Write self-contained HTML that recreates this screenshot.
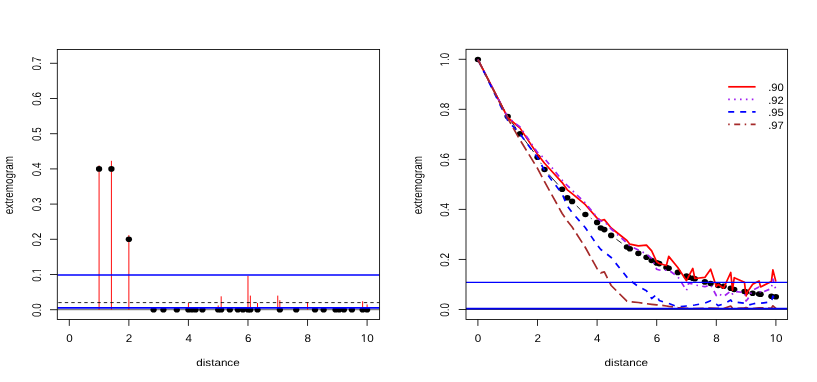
<!DOCTYPE html>
<html><head><meta charset="utf-8"><title>extremogram</title>
<style>html,body{margin:0;padding:0;background:#fff;}body{width:817px;height:382px;overflow:hidden;font-family:"Liberation Sans",sans-serif;}svg{display:block}</style>
</head><body>
<svg width="817" height="382" viewBox="0 0 817 382" font-family="Liberation Sans, sans-serif" fill="#000" text-rendering="geometricPrecision">
<rect width="817" height="382" fill="#fff"/>
<defs><filter id="tb" filterUnits="userSpaceOnUse" x="0" y="0" width="817" height="382"><feGaussianBlur stdDeviation="0.3"/></filter></defs>
<clipPath id="c1"><rect x="57.3" y="49.5" width="322.30" height="270.00"/></clipPath>
<g clip-path="url(#c1)">
<line x1="57.3" y1="309.70" x2="379.6" y2="309.70" stroke="#666" stroke-width="1"/>
<line x1="99.08" y1="309.70" x2="99.08" y2="165.38" stroke="#ff0000" stroke-width="0.95"/>
<line x1="111.41" y1="309.70" x2="111.41" y2="160.80" stroke="#ff0000" stroke-width="0.95"/>
<line x1="128.86" y1="309.70" x2="128.86" y2="235.08" stroke="#ff0000" stroke-width="0.95"/>
<line x1="188.42" y1="309.70" x2="188.42" y2="303.01" stroke="#ff0000" stroke-width="0.95"/>
<line x1="218.20" y1="309.70" x2="218.20" y2="305.48" stroke="#ff0000" stroke-width="0.95"/>
<line x1="221.18" y1="309.70" x2="221.18" y2="296.32" stroke="#ff0000" stroke-width="0.95"/>
<line x1="247.98" y1="309.70" x2="247.98" y2="275.91" stroke="#ff0000" stroke-width="0.95"/>
<line x1="250.36" y1="309.70" x2="250.36" y2="295.62" stroke="#ff0000" stroke-width="0.95"/>
<line x1="257.51" y1="309.70" x2="257.51" y2="303.01" stroke="#ff0000" stroke-width="0.95"/>
<line x1="277.76" y1="309.70" x2="277.76" y2="295.62" stroke="#ff0000" stroke-width="0.95"/>
<line x1="279.84" y1="309.70" x2="279.84" y2="300.20" stroke="#ff0000" stroke-width="0.95"/>
<line x1="307.54" y1="309.70" x2="307.54" y2="302.31" stroke="#ff0000" stroke-width="0.95"/>
<line x1="362.63" y1="309.70" x2="362.63" y2="301.25" stroke="#ff0000" stroke-width="0.95"/>
<line x1="367.10" y1="309.70" x2="367.10" y2="304.42" stroke="#ff0000" stroke-width="0.95"/>
<ellipse cx="99.08" cy="168.90" rx="3.15" ry="2.8" fill="#000"/>
<ellipse cx="111.41" cy="168.90" rx="3.15" ry="2.8" fill="#000"/>
<ellipse cx="128.86" cy="239.30" rx="3.15" ry="2.8" fill="#000"/>
<ellipse cx="153.58" cy="309.70" rx="3.15" ry="2.8" fill="#000"/>
<ellipse cx="163.40" cy="309.70" rx="3.15" ry="2.8" fill="#000"/>
<ellipse cx="176.81" cy="309.70" rx="3.15" ry="2.8" fill="#000"/>
<ellipse cx="188.42" cy="309.70" rx="3.15" ry="2.8" fill="#000"/>
<ellipse cx="191.99" cy="309.70" rx="3.15" ry="2.8" fill="#000"/>
<ellipse cx="195.57" cy="309.70" rx="3.15" ry="2.8" fill="#000"/>
<ellipse cx="202.42" cy="309.70" rx="3.15" ry="2.8" fill="#000"/>
<ellipse cx="218.20" cy="309.70" rx="3.15" ry="2.8" fill="#000"/>
<ellipse cx="221.18" cy="309.70" rx="3.15" ry="2.8" fill="#000"/>
<ellipse cx="229.81" cy="309.70" rx="3.15" ry="2.8" fill="#000"/>
<ellipse cx="237.85" cy="309.70" rx="3.15" ry="2.8" fill="#000"/>
<ellipse cx="242.92" cy="309.70" rx="3.15" ry="2.8" fill="#000"/>
<ellipse cx="247.98" cy="309.70" rx="3.15" ry="2.8" fill="#000"/>
<ellipse cx="250.36" cy="309.70" rx="3.15" ry="2.8" fill="#000"/>
<ellipse cx="257.51" cy="309.70" rx="3.15" ry="2.8" fill="#000"/>
<ellipse cx="279.84" cy="309.70" rx="3.15" ry="2.8" fill="#000"/>
<ellipse cx="296.22" cy="309.70" rx="3.15" ry="2.8" fill="#000"/>
<ellipse cx="314.99" cy="309.70" rx="3.15" ry="2.8" fill="#000"/>
<ellipse cx="323.62" cy="309.70" rx="3.15" ry="2.8" fill="#000"/>
<ellipse cx="335.53" cy="309.70" rx="3.15" ry="2.8" fill="#000"/>
<ellipse cx="339.11" cy="309.70" rx="3.15" ry="2.8" fill="#000"/>
<ellipse cx="343.87" cy="309.70" rx="3.15" ry="2.8" fill="#000"/>
<ellipse cx="351.91" cy="309.70" rx="3.15" ry="2.8" fill="#000"/>
<ellipse cx="362.63" cy="309.70" rx="3.15" ry="2.8" fill="#000"/>
<ellipse cx="367.10" cy="309.70" rx="3.15" ry="2.8" fill="#000"/>
<line x1="57.3" y1="302.6" x2="379.6" y2="302.6" stroke="#000" stroke-width="0.85" stroke-dasharray="3.4 3.1" stroke-dashoffset="-1"/>
<line x1="57.3" y1="275.0" x2="379.6" y2="275.0" stroke="#0000ff" stroke-width="1.7"/>
<line x1="57.3" y1="307.95" x2="379.6" y2="307.95" stroke="#0000ff" stroke-width="1.75"/>
</g>
<rect x="57.3" y="49.5" width="322.30" height="270.00" fill="none" stroke="#000" stroke-width="0.85"/>
<line x1="69.30" y1="319.5" x2="69.30" y2="325.9" stroke="#000" stroke-width="0.85"/>
<line x1="128.86" y1="319.5" x2="128.86" y2="325.9" stroke="#000" stroke-width="0.85"/>
<line x1="188.42" y1="319.5" x2="188.42" y2="325.9" stroke="#000" stroke-width="0.85"/>
<line x1="247.98" y1="319.5" x2="247.98" y2="325.9" stroke="#000" stroke-width="0.85"/>
<line x1="307.54" y1="319.5" x2="307.54" y2="325.9" stroke="#000" stroke-width="0.85"/>
<line x1="367.10" y1="319.5" x2="367.10" y2="325.9" stroke="#000" stroke-width="0.85"/>
<line x1="50.00" y1="309.70" x2="57.3" y2="309.70" stroke="#000" stroke-width="0.85"/>
<line x1="50.00" y1="274.50" x2="57.3" y2="274.50" stroke="#000" stroke-width="0.85"/>
<line x1="50.00" y1="239.30" x2="57.3" y2="239.30" stroke="#000" stroke-width="0.85"/>
<line x1="50.00" y1="204.10" x2="57.3" y2="204.10" stroke="#000" stroke-width="0.85"/>
<line x1="50.00" y1="168.90" x2="57.3" y2="168.90" stroke="#000" stroke-width="0.85"/>
<line x1="50.00" y1="133.70" x2="57.3" y2="133.70" stroke="#000" stroke-width="0.85"/>
<line x1="50.00" y1="98.50" x2="57.3" y2="98.50" stroke="#000" stroke-width="0.85"/>
<line x1="50.00" y1="63.30" x2="57.3" y2="63.30" stroke="#000" stroke-width="0.85"/>
<clipPath id="c2"><rect x="466.0" y="49.3" width="321.60" height="270.20"/></clipPath>
<g clip-path="url(#c2)" fill="none" stroke-linejoin="round">
<ellipse cx="477.90" cy="59.50" rx="3.15" ry="2.8" fill="#000"/>
<ellipse cx="507.70" cy="116.50" rx="3.15" ry="2.8" fill="#000"/>
<ellipse cx="520.04" cy="133.80" rx="3.15" ry="2.8" fill="#000"/>
<ellipse cx="537.50" cy="157.20" rx="3.15" ry="2.8" fill="#000"/>
<ellipse cx="544.53" cy="169.50" rx="3.15" ry="2.8" fill="#000"/>
<ellipse cx="562.17" cy="189.30" rx="3.15" ry="2.8" fill="#000"/>
<ellipse cx="567.30" cy="197.70" rx="3.15" ry="2.8" fill="#000"/>
<ellipse cx="572.13" cy="201.40" rx="3.15" ry="2.8" fill="#000"/>
<ellipse cx="585.36" cy="214.50" rx="3.15" ry="2.8" fill="#000"/>
<ellipse cx="597.10" cy="222.40" rx="3.15" ry="2.8" fill="#000"/>
<ellipse cx="600.77" cy="228.00" rx="3.15" ry="2.8" fill="#000"/>
<ellipse cx="604.34" cy="229.60" rx="3.15" ry="2.8" fill="#000"/>
<ellipse cx="611.17" cy="235.40" rx="3.15" ry="2.8" fill="#000"/>
<ellipse cx="626.90" cy="247.00" rx="3.15" ry="2.8" fill="#000"/>
<ellipse cx="629.85" cy="248.80" rx="3.15" ry="2.8" fill="#000"/>
<ellipse cx="638.37" cy="253.40" rx="3.15" ry="2.8" fill="#000"/>
<ellipse cx="646.48" cy="257.20" rx="3.15" ry="2.8" fill="#000"/>
<ellipse cx="651.66" cy="260.50" rx="3.15" ry="2.8" fill="#000"/>
<ellipse cx="656.70" cy="262.90" rx="3.15" ry="2.8" fill="#000"/>
<ellipse cx="659.17" cy="263.60" rx="3.15" ry="2.8" fill="#000"/>
<ellipse cx="666.38" cy="267.50" rx="3.15" ry="2.8" fill="#000"/>
<ellipse cx="668.71" cy="268.20" rx="3.15" ry="2.8" fill="#000"/>
<ellipse cx="677.80" cy="272.40" rx="3.15" ry="2.8" fill="#000"/>
<ellipse cx="686.50" cy="276.10" rx="3.15" ry="2.8" fill="#000"/>
<ellipse cx="688.62" cy="277.20" rx="3.15" ry="2.8" fill="#000"/>
<ellipse cx="692.79" cy="278.30" rx="3.15" ry="2.8" fill="#000"/>
<ellipse cx="694.84" cy="278.80" rx="3.15" ry="2.8" fill="#000"/>
<ellipse cx="704.86" cy="281.90" rx="3.15" ry="2.8" fill="#000"/>
<ellipse cx="710.64" cy="283.50" rx="3.15" ry="2.8" fill="#000"/>
<ellipse cx="718.15" cy="285.50" rx="3.15" ry="2.8" fill="#000"/>
<ellipse cx="723.63" cy="286.30" rx="3.15" ry="2.8" fill="#000"/>
<ellipse cx="730.75" cy="288.20" rx="3.15" ry="2.8" fill="#000"/>
<ellipse cx="734.24" cy="289.50" rx="3.15" ry="2.8" fill="#000"/>
<ellipse cx="744.43" cy="291.50" rx="3.15" ry="2.8" fill="#000"/>
<ellipse cx="746.10" cy="292.10" rx="3.15" ry="2.8" fill="#000"/>
<ellipse cx="752.66" cy="293.20" rx="3.15" ry="2.8" fill="#000"/>
<ellipse cx="759.03" cy="294.00" rx="3.15" ry="2.8" fill="#000"/>
<ellipse cx="760.61" cy="294.20" rx="3.15" ry="2.8" fill="#000"/>
<ellipse cx="771.40" cy="296.30" rx="3.15" ry="2.8" fill="#000"/>
<ellipse cx="775.90" cy="296.70" rx="3.15" ry="2.8" fill="#000"/>
<line x1="480.91" y1="65.26" x2="504.69" y2="110.74" stroke="#000" stroke-width="0.85"/>
<line x1="511.47" y1="121.79" x2="516.26" y2="128.51" stroke="#000" stroke-width="0.85"/>
<line x1="523.92" y1="139.01" x2="533.61" y2="151.99" stroke="#000" stroke-width="0.85"/>
<line x1="540.73" y1="162.84" x2="541.31" y2="163.86" stroke="#000" stroke-width="0.85"/>
<line x1="548.86" y1="174.35" x2="557.85" y2="184.45" stroke="#000" stroke-width="0.85"/>
<line x1="576.75" y1="205.97" x2="580.74" y2="209.93" stroke="#000" stroke-width="0.85"/>
<line x1="590.75" y1="218.13" x2="591.71" y2="218.77" stroke="#000" stroke-width="0.85"/>
<line x1="616.40" y1="239.26" x2="621.67" y2="243.14" stroke="#000" stroke-width="0.85"/>
<line x1="466.0" y1="309.5" x2="787.6" y2="309.5" stroke="#444" stroke-width="1"/>
<polyline points="477.90,59.50 507.70,117.50 520.04,128.10 537.50,154.30 544.53,163.30 562.17,182.60 567.30,189.80 572.13,193.70 585.36,204.70 597.10,218.10 600.77,220.50 604.34,219.60 611.17,228.00 626.90,240.50 629.85,244.20 638.37,245.80 646.48,245.10 651.66,250.90 656.70,261.80 659.17,263.50 666.38,265.50 668.71,256.40 677.80,267.50 686.50,280.70 688.62,276.50 692.79,268.40 694.84,278.50 704.86,277.40 710.64,269.20 716.30,286.40 718.15,284.30 723.63,288.20 730.75,272.50 732.51,290.10 734.24,277.70 744.43,282.20 746.10,296.00 747.74,291.50 752.66,284.30 759.03,281.00 760.61,286.90 771.40,281.60 772.89,269.90 775.90,281.60" stroke="#ff0000" stroke-width="1.7"/>
<polyline points="477.90,59.50 507.70,117.30 520.04,127.00 537.50,152.50 544.53,158.50 562.17,180.20 567.30,185.50 572.13,190.30 585.36,203.00 597.10,217.50 600.77,221.00 604.34,221.50 611.17,229.00 626.90,243.00 629.85,246.00 638.37,250.00 646.48,254.00 651.66,258.30 656.70,269.30 659.17,270.00 666.38,270.20 668.71,270.20 677.80,276.70 686.50,290.40 688.62,283.10 692.79,284.00 694.84,285.00 704.86,286.70 710.64,284.90 716.30,295.50 718.15,293.50 723.63,296.50 730.75,291.00 732.51,294.00 734.24,291.50 744.43,292.50 746.10,301.00 747.74,299.00 752.66,290.10 759.03,286.90 760.61,293.00 771.40,288.50 772.89,279.00 775.90,290.10" stroke="#a020f0" stroke-width="1.7" stroke-dasharray="1.5 4.3 5.6 4.3" stroke-dashoffset="8.7"/>
<polyline points="477.90,59.50 507.70,120.50 520.04,134.00 537.50,157.50 544.53,170.50 562.17,194.00 567.30,206.00 572.13,212.50 585.36,227.70 597.10,245.00 600.77,249.50 604.34,252.00 611.17,257.50 626.90,277.10 629.85,280.30 638.37,286.50 646.48,290.70 651.66,298.50 656.70,294.50 659.17,300.50 666.38,303.00 668.71,303.40 677.80,306.90 686.50,306.00 688.62,305.80 692.79,305.30 694.84,305.00 704.86,303.20 710.64,300.80 716.30,304.10 718.15,305.60 723.63,304.00 730.75,300.00 732.51,302.60 734.24,301.90 744.43,303.30 746.10,305.00 747.74,305.20 752.66,304.00 759.03,302.30 760.61,303.20 771.40,302.00 772.89,296.00 775.90,301.00" stroke="#0000ff" stroke-width="1.7" stroke-dasharray="6.2 6.2"/>
<polyline points="477.90,59.50 507.70,118.30 520.04,140.00 537.50,168.40 544.53,181.60 562.17,213.50 567.30,221.00 572.13,227.00 585.36,247.50 597.10,268.70 600.77,272.90 604.34,271.90 611.17,285.50 626.90,301.20 629.85,301.60 638.37,302.50 646.48,303.70 651.66,304.30 656.70,304.80 659.17,305.00 666.38,306.00 668.71,306.40 677.80,307.50 686.50,308.30 688.62,308.40 692.79,308.50 694.84,308.50 704.86,308.30 710.64,308.00 716.30,308.30 718.15,308.30 723.63,308.50 730.75,306.00 732.51,308.30 734.24,308.50 744.43,307.80 746.10,307.60 747.74,308.00 752.66,308.50 759.03,307.80 760.61,307.80 771.40,308.30 772.89,305.80 775.90,308.50" stroke="#a52a2a" stroke-width="1.7" stroke-dasharray="10.8 4.6"/>
<line x1="466.0" y1="282.35" x2="787.6" y2="282.35" stroke="#0000ff" stroke-width="1.25"/>
<line x1="466.0" y1="308.65" x2="787.6" y2="308.65" stroke="#0000ee" stroke-width="1.6"/>
</g>
<rect x="466.0" y="49.3" width="321.60" height="270.20" fill="none" stroke="#000" stroke-width="0.85"/>
<line x1="477.90" y1="319.5" x2="477.90" y2="325.9" stroke="#000" stroke-width="0.85"/>
<line x1="537.50" y1="319.5" x2="537.50" y2="325.9" stroke="#000" stroke-width="0.85"/>
<line x1="597.10" y1="319.5" x2="597.10" y2="325.9" stroke="#000" stroke-width="0.85"/>
<line x1="656.70" y1="319.5" x2="656.70" y2="325.9" stroke="#000" stroke-width="0.85"/>
<line x1="716.30" y1="319.5" x2="716.30" y2="325.9" stroke="#000" stroke-width="0.85"/>
<line x1="775.90" y1="319.5" x2="775.90" y2="325.9" stroke="#000" stroke-width="0.85"/>
<line x1="458.70" y1="309.50" x2="466.0" y2="309.50" stroke="#000" stroke-width="0.85"/>
<line x1="458.70" y1="259.46" x2="466.0" y2="259.46" stroke="#000" stroke-width="0.85"/>
<line x1="458.70" y1="209.42" x2="466.0" y2="209.42" stroke="#000" stroke-width="0.85"/>
<line x1="458.70" y1="159.38" x2="466.0" y2="159.38" stroke="#000" stroke-width="0.85"/>
<line x1="458.70" y1="109.34" x2="466.0" y2="109.34" stroke="#000" stroke-width="0.85"/>
<line x1="458.70" y1="59.30" x2="466.0" y2="59.30" stroke="#000" stroke-width="0.85"/>
<line x1="728.2" y1="86.8" x2="755.6" y2="86.8" stroke="#ff0000" stroke-width="1.7"/>
<line x1="728.2" y1="99.4" x2="755.6" y2="99.4" stroke="#a020f0" stroke-width="1.7" stroke-dasharray="1.6 4.3"/>
<line x1="728.2" y1="111.9" x2="755.6" y2="111.9" stroke="#0000ff" stroke-width="1.9" stroke-dasharray="6 6"/>
<line x1="728.2" y1="124.4" x2="755.6" y2="124.4" stroke="#a52a2a" stroke-width="1.7" stroke-dasharray="1.5 4.5 6 4.5"/>
<g filter="url(#tb)">
<text transform="translate(69.50,342.40) scale(1.04,1)" font-size="11.2" text-anchor="middle" text-rendering="geometricPrecision">0</text>
<text transform="translate(129.06,342.40) scale(1.04,1)" font-size="11.2" text-anchor="middle" text-rendering="geometricPrecision">2</text>
<text transform="translate(188.62,342.40) scale(1.04,1)" font-size="11.2" text-anchor="middle" text-rendering="geometricPrecision">4</text>
<text transform="translate(248.18,342.40) scale(1.04,1)" font-size="11.2" text-anchor="middle" text-rendering="geometricPrecision">6</text>
<text transform="translate(307.74,342.40) scale(1.04,1)" font-size="11.2" text-anchor="middle" text-rendering="geometricPrecision">8</text>
<text transform="translate(367.30,342.40) scale(1.04,1)" font-size="11.2" text-anchor="middle" text-rendering="geometricPrecision">10</text>
<text transform="translate(40.70,310.10) scale(1.28,1) rotate(-90)" font-size="9.9" text-anchor="middle" text-rendering="geometricPrecision">0.0</text>
<text transform="translate(40.70,274.90) scale(1.28,1) rotate(-90)" font-size="9.9" text-anchor="middle" text-rendering="geometricPrecision">0.1</text>
<text transform="translate(40.70,239.70) scale(1.28,1) rotate(-90)" font-size="9.9" text-anchor="middle" text-rendering="geometricPrecision">0.2</text>
<text transform="translate(40.70,204.50) scale(1.28,1) rotate(-90)" font-size="9.9" text-anchor="middle" text-rendering="geometricPrecision">0.3</text>
<text transform="translate(40.70,169.30) scale(1.28,1) rotate(-90)" font-size="9.9" text-anchor="middle" text-rendering="geometricPrecision">0.4</text>
<text transform="translate(40.70,134.10) scale(1.28,1) rotate(-90)" font-size="9.9" text-anchor="middle" text-rendering="geometricPrecision">0.5</text>
<text transform="translate(40.70,98.90) scale(1.28,1) rotate(-90)" font-size="9.9" text-anchor="middle" text-rendering="geometricPrecision">0.6</text>
<text transform="translate(40.70,63.70) scale(1.28,1) rotate(-90)" font-size="9.9" text-anchor="middle" text-rendering="geometricPrecision">0.7</text>
<text transform="translate(217.95,365.80) scale(1.147,1)" font-size="10.2" text-anchor="middle" text-rendering="geometricPrecision">distance</text>
<text transform="translate(13.10,185.15) scale(1.28,1) rotate(-90)" font-size="9.9" text-anchor="middle" text-rendering="geometricPrecision">extremogram</text>
<text transform="translate(478.10,342.40) scale(1.04,1)" font-size="11.2" text-anchor="middle" text-rendering="geometricPrecision">0</text>
<text transform="translate(537.70,342.40) scale(1.04,1)" font-size="11.2" text-anchor="middle" text-rendering="geometricPrecision">2</text>
<text transform="translate(597.30,342.40) scale(1.04,1)" font-size="11.2" text-anchor="middle" text-rendering="geometricPrecision">4</text>
<text transform="translate(656.90,342.40) scale(1.04,1)" font-size="11.2" text-anchor="middle" text-rendering="geometricPrecision">6</text>
<text transform="translate(716.50,342.40) scale(1.04,1)" font-size="11.2" text-anchor="middle" text-rendering="geometricPrecision">8</text>
<text transform="translate(776.10,342.40) scale(1.04,1)" font-size="11.2" text-anchor="middle" text-rendering="geometricPrecision">10</text>
<text transform="translate(449.40,309.90) scale(1.28,1) rotate(-90)" font-size="9.9" text-anchor="middle" text-rendering="geometricPrecision">0.0</text>
<text transform="translate(449.40,259.86) scale(1.28,1) rotate(-90)" font-size="9.9" text-anchor="middle" text-rendering="geometricPrecision">0.2</text>
<text transform="translate(449.40,209.82) scale(1.28,1) rotate(-90)" font-size="9.9" text-anchor="middle" text-rendering="geometricPrecision">0.4</text>
<text transform="translate(449.40,159.78) scale(1.28,1) rotate(-90)" font-size="9.9" text-anchor="middle" text-rendering="geometricPrecision">0.6</text>
<text transform="translate(449.40,109.74) scale(1.28,1) rotate(-90)" font-size="9.9" text-anchor="middle" text-rendering="geometricPrecision">0.8</text>
<text transform="translate(449.40,59.70) scale(1.28,1) rotate(-90)" font-size="9.9" text-anchor="middle" text-rendering="geometricPrecision">1.0</text>
<text transform="translate(626.30,365.80) scale(1.147,1)" font-size="10.2" text-anchor="middle" text-rendering="geometricPrecision">distance</text>
<text transform="translate(421.80,185.05) scale(1.28,1) rotate(-90)" font-size="9.9" text-anchor="middle" text-rendering="geometricPrecision">extremogram</text>
<text transform="translate(768.20,91.00) scale(1.05,1)" font-size="10.7" text-anchor="start" text-rendering="geometricPrecision">.90</text>
<text transform="translate(768.20,103.55) scale(1.05,1)" font-size="10.7" text-anchor="start" text-rendering="geometricPrecision">.92</text>
<text transform="translate(768.20,116.10) scale(1.05,1)" font-size="10.7" text-anchor="start" text-rendering="geometricPrecision">.95</text>
<text transform="translate(768.20,128.65) scale(1.05,1)" font-size="10.7" text-anchor="start" text-rendering="geometricPrecision">.97</text>
</g>
<rect x="360.99" y="340.86" width="2.76" height="2.54" fill="#fff"/>
<rect x="364.78" y="340.86" width="2.53" height="2.54" fill="#fff"/>
<rect x="39.05" y="271.04" width="2.65" height="2.34" fill="#fff"/>
<rect x="39.05" y="268.01" width="2.65" height="2.15" fill="#fff"/>
<rect x="769.79" y="340.86" width="2.76" height="2.54" fill="#fff"/>
<rect x="773.58" y="340.86" width="2.53" height="2.54" fill="#fff"/>
<rect x="447.75" y="64.09" width="2.65" height="2.34" fill="#fff"/>
<rect x="447.75" y="61.07" width="2.65" height="2.15" fill="#fff"/>
</svg>
</body></html>
